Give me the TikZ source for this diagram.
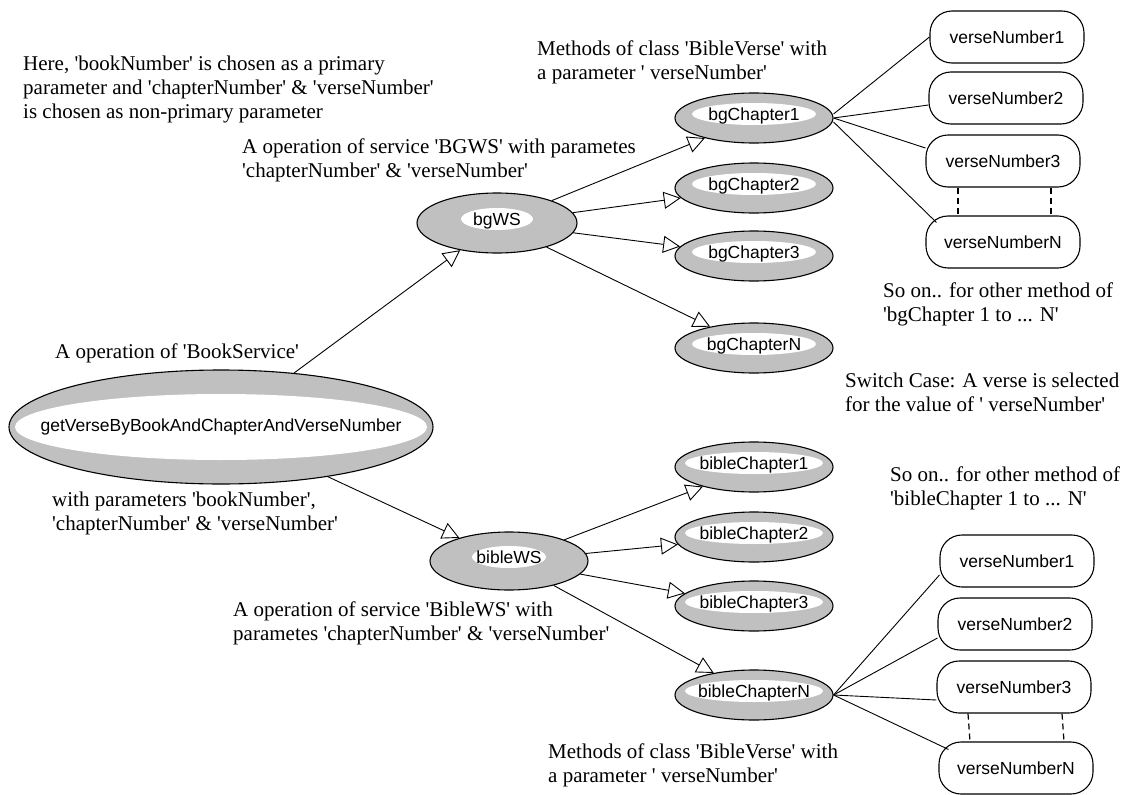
\documentclass[tikz,border=0pt]{standalone}
\usepackage{fontspec}
\newfontfamily\labfont{Liberation Serif}
\newfontfamily\boxfont{Liberation Sans}
\usetikzlibrary{arrows.meta,shapes.geometric}
\definecolor{ggray}{RGB}{192,192,192}
\newcommand{\ctext}[1]{\makebox[0pt]{#1}}
\begin{document}
\begin{tikzpicture}[x=1pt,y=-1pt,
  gbase/.style={draw, line width=1.1pt, fill=ggray, ellipse, inner sep=0pt,
    font=\boxfont\fontsize{17.5}{20}\selectfont},
  gel/.style n args={4}{gbase, minimum width=#1, minimum height=#2,
    text height=9pt, text depth=4.4pt,
    path picture={\fill[white] ([yshift=4pt]path picture bounding box.center) ellipse [x radius=#3, y radius=#4];}},
  mainel/.style={gbase, minimum width=424pt, minimum height=114pt,
    path picture={\fill[white] (path picture bounding box.center) ellipse [x radius=206pt, y radius=33pt];}},
  vbox/.style={draw, line width=1.1pt, fill=white, rectangle, rounded corners=22pt,
    minimum width=154pt, minimum height=52pt, inner sep=0pt,
    font=\boxfont\fontsize{17.5}{20}\selectfont},
  lab/.style={anchor=west, inner sep=0pt, align=left,
    font=\labfont\fontsize{21}{24}\selectfont},
  arr/.style={line width=0.9pt, -{Triangle[length=17pt, width=17pt, fill=white]}},
  con/.style={line width=0.9pt},
  dsh/.style={line width=1.2pt, dash pattern=on 6pt off 4pt}
]
\path[use as bounding box, fill=white] (0,0) rectangle (1136,795);

% main ellipse
\node[mainel] (main) at (221,427) {\ctext{getVerseByBookAndChapterAndVerseNumber}};

% web services
\node[gel={160pt}{60pt}{36pt}{11pt}] (bgws) at (497,223) {\ctext{bgWS}};
\node[gel={158pt}{58pt}{37pt}{11pt}] (biblews) at (509,561) {\ctext{bibleWS}};

% bg chapters
\node[gel={158pt}{50pt}{62pt}{11pt}] (bgc1) at (754,118) {\ctext{bgChapter1}};
\node[gel={158pt}{50pt}{62pt}{11pt}] (bgc2) at (754,188) {\ctext{bgChapter2}};
\node[gel={158pt}{50pt}{62pt}{11pt}] (bgc3) at (754,256) {\ctext{bgChapter3}};
\node[gel={158pt}{50pt}{62pt}{11pt}] (bgcN) at (754,348) {\ctext{bgChapterN}};

% bible chapters
\node[gel={158pt}{50pt}{69pt}{11pt}] (bic1) at (754,467) {\ctext{bibleChapter1}};
\node[gel={158pt}{50pt}{69pt}{11pt}] (bic2) at (754,537) {\ctext{bibleChapter2}};
\node[gel={158pt}{50pt}{69pt}{11pt}] (bic3) at (754,606) {\ctext{bibleChapter3}};
\node[gel={158pt}{50pt}{69pt}{11pt}] (bicN) at (754,695) {\ctext{bibleChapterN}};

% verse boxes top
\node[vbox] (vt1) at (1007,37) {verseNumber1};
\node[vbox] (vt2) at (1006,98) {verseNumber2};
\node[vbox] (vt3) at (1003,161) {verseNumber3};
\node[vbox] (vtN) at (1003,242) {verseNumberN};

% verse boxes bottom
\node[vbox] (vb1) at (1017,561) {verseNumber1};
\node[vbox] (vb2) at (1015,624) {verseNumber2};
\node[vbox] (vb3) at (1014,687) {verseNumber3};
\node[vbox] (vbN) at (1016,768) {verseNumberN};

% arrows
\draw[arr] (main) -- (bgws);
\draw[arr] (main) -- (biblews);
\foreach \c in {bgc1,bgc2,bgc3,bgcN} \draw[arr] (bgws) -- (\c);
\foreach \c in {bic1,bic2,bic3,bicN} \draw[arr] (biblews) -- (\c);

% plain connectors
\draw[con] ([yshift=4pt]bgc1.east) -- (vt1.west);
\draw[con] (bgc1.east) -- ([yshift=-7pt]vt2.west);
\draw[con] (bgc1.east) -- ([yshift=13pt]vt3.west);
\draw[con] ([yshift=-4pt]bgc1.east) -- ([xshift=11pt,yshift=-7pt]vtN.north west);
\draw[con] (bicN.east) -- ([yshift=-14pt]vb1.west);
\draw[con] (bicN.east) -- ([yshift=-14pt]vb2.west);
\draw[con] (bicN.east) -- ([yshift=-13pt]vb3.west);
\draw[con] (bicN.east) -- ([xshift=10pt,yshift=-8pt]vbN.north west);

% dashed continuation
\draw[dsh] ([xshift=-45pt]vt3.south) -- ([xshift=-45pt]vtN.north);
\draw[dsh] ([xshift=48pt]vt3.south) -- ([xshift=48pt]vtN.north);
\draw[dsh] ([xshift=-46pt]vb3.south) -- ([xshift=-46pt]vbN.north);
\draw[dsh] ([xshift=48pt]vb3.south) -- ([xshift=48pt]vbN.north);

% labels
\node[lab] (l1) at (23,89) {Here, 'bookNumber' is chosen as a primary\\parameter and 'chapterNumber' \& 'verseNumber'\\is chosen as non-primary parameter};
\node[lab] (l2) at (242,160) {A operation of service 'BGWS' with parametes\\'chapterNumber' \& 'verseNumber'};
\node[lab] (l3) at (537,62) {Methods of class 'BibleVerse' with\\a parameter ' verseNumber'};
\node[lab] (l4) at (883,304) {So on.. for other method of\\'bgChapter 1 to ... N'};
\node[lab] (l5) at (845,392) {Switch Case: A verse is selected\\for the value of ' verseNumber'};
\node[lab] (l6) at (55,353) {A operation of 'BookService'};
\node[lab] (l7) at (52,513) {with parameters 'bookNumber',\\'chapterNumber' \& 'verseNumber'};
\node[lab] (l8) at (890,488) {So on.. for other method of\\'bibleChapter 1 to ... N'};
\node[lab] (l9) at (233,623) {A operation of service 'BibleWS' with\\parametes 'chapterNumber' \& 'verseNumber'};
\node[lab] (l10) at (548,765) {Methods of class 'BibleVerse' with\\a parameter ' verseNumber'};
\end{tikzpicture}
\end{document}
